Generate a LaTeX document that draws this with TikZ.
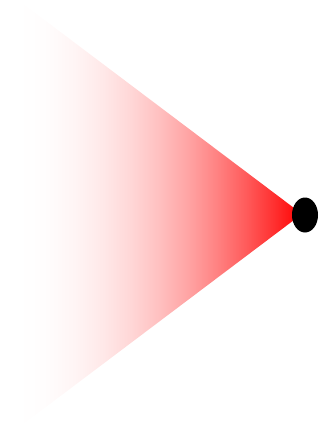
\documentclass[tikz,border=0pt]{standalone}
\usetikzlibrary{shapes.geometric}
\pgfdeclarehorizontalshading{redfade}{100bp}{%
  color(0bp)=(red!0); color(25bp)=(red!0); color(30bp)=(red!1); color(35bp)=(red!4);
  color(40bp)=(red!9); color(45bp)=(red!16); color(50bp)=(red!25); color(55bp)=(red!36);
  color(60bp)=(red!49); color(65bp)=(red!64); color(70bp)=(red!81); color(75bp)=(red!100);
  color(100bp)=(red!100)}
\begin{document}
\begin{tikzpicture}[x=1pt,y=-1pt]
\useasboundingbox (0,0) rectangle (321,428);
\coordinate (tl) at (18,0);
\coordinate (bl) at (18,428);
\coordinate (ap) at (302,214);
\shade[shading=redfade] (tl) -- (ap) -- (bl) -- cycle;
\node[ellipse, fill=black, minimum width=26pt, minimum height=35pt, inner sep=0pt] (dot) at (305,215) {};
\end{tikzpicture}
\end{document}
